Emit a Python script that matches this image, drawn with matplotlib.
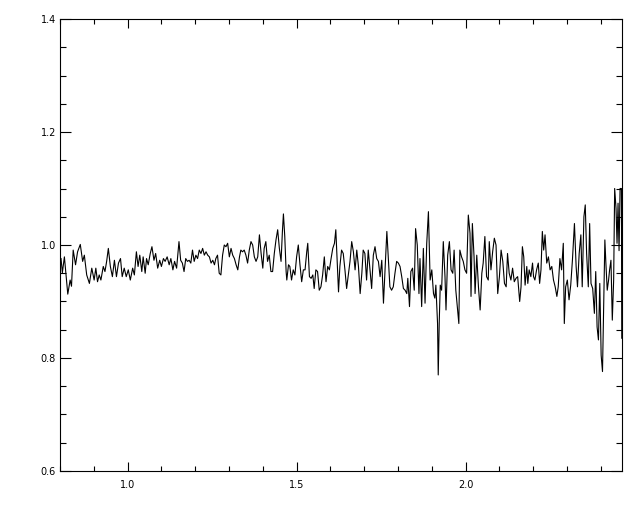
import numpy as np
import matplotlib
matplotlib.use("Agg")
import matplotlib.pyplot as plt
from matplotlib.ticker import MultipleLocator

# spectrum, in five stretches of wavelength
wave_a = [0.803, 0.807, 0.813, 0.823, 0.830, 0.834, 0.839, 0.846, 0.852, 0.860,
          0.867, 0.872, 0.879, 0.887, 0.894, 0.901, 0.906, 0.911, 0.916, 0.921,
          0.928, 0.933, 0.938, 0.943, 0.949, 0.955, 0.961, 0.967, 0.973, 0.979,
          0.984, 0.990, 0.996, 1.002, 1.008, 1.015, 1.020, 1.026, 1.031, 1.036,
          1.042, 1.046, 1.052, 1.056, 1.061, 1.067, 1.072, 1.078, 1.083, 1.089,
          1.095, 1.100, 1.106, 1.111, 1.117, 1.123, 1.128, 1.134, 1.139]
flux_a = [0.976, 0.951, 0.979, 0.913, 0.938, 0.927, 0.991, 0.965, 0.988, 1.001,
          0.971, 0.982, 0.947, 0.932, 0.959, 0.938, 0.959, 0.935, 0.947, 0.938,
          0.962, 0.953, 0.971, 0.994, 0.962, 0.944, 0.973, 0.944, 0.968, 0.976,
          0.944, 0.959, 0.944, 0.956, 0.938, 0.959, 0.947, 0.988, 0.962, 0.982,
          0.953, 0.979, 0.950, 0.976, 0.965, 0.985, 0.997, 0.973, 0.985, 0.959,
          0.973, 0.962, 0.976, 0.971, 0.979, 0.965, 0.976, 0.956, 0.971]

wave_b = [1.145, 1.152, 1.157, 1.162, 1.167, 1.172, 1.177, 1.182, 1.187, 1.192,
          1.197, 1.202, 1.207, 1.212, 1.217, 1.222, 1.227, 1.232, 1.237, 1.242,
          1.247, 1.252, 1.257, 1.261, 1.266, 1.271, 1.276, 1.281, 1.286, 1.291,
          1.296, 1.301, 1.306, 1.311, 1.316, 1.321, 1.326, 1.331, 1.335, 1.340,
          1.345, 1.350, 1.355, 1.360, 1.365, 1.370, 1.375, 1.380, 1.385, 1.390,
          1.395, 1.400, 1.404, 1.409, 1.414, 1.419, 1.424, 1.429, 1.434, 1.439,
          1.444, 1.449, 1.454, 1.458, 1.461, 1.465, 1.469, 1.471, 1.476]
flux_b = [0.959, 1.006, 0.973, 0.968, 0.953, 0.976, 0.971, 0.973, 0.968, 0.991,
          0.971, 0.982, 0.976, 0.991, 0.985, 0.994, 0.982, 0.988, 0.982, 0.979,
          0.968, 0.973, 0.965, 0.976, 0.982, 0.950, 0.947, 0.982, 1.000, 0.997,
          1.003, 0.979, 0.994, 0.982, 0.976, 0.965, 0.956, 0.979, 0.991, 0.988,
          0.991, 0.982, 0.968, 0.991, 1.006, 1.000, 0.979, 0.971, 0.979, 1.018,
          0.985, 0.959, 0.994, 1.006, 0.971, 0.982, 0.953, 0.953, 0.985, 1.009,
          1.027, 0.994, 0.971, 1.024, 1.055, 1.015, 0.953, 0.938, 0.965]

wave_c = [1.480, 1.485, 1.490, 1.495, 1.500, 1.505, 1.510, 1.515, 1.520, 1.525,
          1.530, 1.533, 1.538, 1.543, 1.548, 1.552, 1.557, 1.562, 1.567, 1.572,
          1.577, 1.582, 1.587, 1.592, 1.597, 1.602, 1.607, 1.612, 1.616, 1.621,
          1.624, 1.628, 1.633, 1.638, 1.643, 1.648, 1.653, 1.658, 1.663, 1.668,
          1.673, 1.678, 1.683, 1.688, 1.693, 1.697, 1.702, 1.707, 1.712, 1.717,
          1.722, 1.727, 1.732, 1.737, 1.742, 1.747, 1.752, 1.757, 1.762, 1.767,
          1.771, 1.776, 1.781, 1.786, 1.791, 1.796, 1.801, 1.806, 1.811, 1.816]
flux_c = [0.962, 0.938, 0.956, 0.947, 0.979, 1.000, 0.965, 0.935, 0.956, 0.956,
          0.988, 1.003, 0.944, 0.941, 0.947, 0.923, 0.956, 0.953, 0.920, 0.926,
          0.947, 0.979, 0.935, 0.962, 0.956, 0.976, 0.994, 1.003, 1.027, 0.956,
          0.917, 0.962, 0.991, 0.985, 0.956, 0.923, 0.947, 0.971, 1.006, 0.988,
          0.956, 0.991, 0.962, 0.914, 0.950, 0.991, 0.985, 0.938, 0.991, 0.956,
          0.923, 0.982, 0.997, 0.976, 0.971, 0.944, 0.973, 0.897, 0.962, 1.024,
          0.979, 0.926, 0.920, 0.926, 0.950, 0.971, 0.968, 0.962, 0.944, 0.923]

wave_d = [1.821, 1.826, 1.829, 1.834, 1.838, 1.843, 1.848, 1.852, 1.857, 1.862,
          1.865, 1.870, 1.875, 1.880, 1.885, 1.890, 1.895, 1.900, 1.905, 1.909,
          1.912, 1.917, 1.919, 1.922, 1.925, 1.929, 1.934, 1.939, 1.942, 1.947,
          1.952, 1.957, 1.962, 1.966, 1.971, 1.976, 1.980, 1.983, 1.988, 1.993,
          1.998, 2.003, 2.008, 2.013, 2.016, 2.020, 2.025, 2.028, 2.033, 2.038,
          2.043, 2.048, 2.052, 2.057, 2.062, 2.067, 2.070, 2.075, 2.080, 2.085,
          2.090, 2.095, 2.100, 2.105, 2.110, 2.115, 2.120, 2.124, 2.129, 2.134,
          2.139, 2.144, 2.149, 2.154]
flux_d = [0.920, 0.914, 0.941, 0.891, 0.953, 0.959, 0.920, 1.029, 1.000, 0.914,
          0.976, 0.891, 0.994, 0.897, 1.003, 1.059, 0.938, 0.956, 0.914, 0.906,
          0.929, 0.861, 0.770, 0.864, 0.929, 0.920, 1.006, 0.944, 0.885, 0.982,
          1.006, 0.956, 0.950, 0.991, 0.920, 0.888, 0.861, 0.991, 0.979, 0.971,
          0.956, 0.950, 1.053, 1.021, 0.909, 1.038, 0.979, 0.914, 0.982, 0.926,
          0.885, 0.950, 0.968, 1.015, 0.944, 0.938, 1.006, 0.956, 0.988, 1.012,
          1.000, 0.914, 0.944, 0.991, 0.971, 0.932, 0.926, 0.985, 0.950, 0.938,
          0.959, 0.935, 0.941, 0.944]

wave_e = [2.160, 2.164, 2.168, 2.172, 2.176, 2.181, 2.184, 2.188, 2.193, 2.198,
          2.201, 2.205, 2.210, 2.215, 2.219, 2.223, 2.227, 2.231, 2.235, 2.240,
          2.245, 2.250, 2.255, 2.260, 2.265, 2.270, 2.274, 2.279, 2.284, 2.289,
          2.292, 2.296, 2.301, 2.306, 2.311, 2.316, 2.322, 2.327, 2.331, 2.336,
          2.341, 2.345, 2.350, 2.354, 2.358, 2.363, 2.367, 2.371, 2.376, 2.381,
          2.385, 2.389, 2.393, 2.397, 2.401, 2.405, 2.408, 2.412, 2.415, 2.419,
          2.423, 2.426, 2.430, 2.434, 2.438, 2.441, 2.445, 2.448, 2.451, 2.454,
          2.457, 2.461, 2.462]
flux_e = [0.900, 0.926, 0.997, 0.979, 0.929, 0.962, 0.932, 0.956, 0.944, 0.968,
          0.944, 0.938, 0.956, 0.968, 0.932, 0.956, 1.024, 0.991, 1.018, 0.968,
          0.979, 0.956, 0.962, 0.938, 0.926, 0.909, 0.926, 0.976, 0.956, 1.003,
          0.861, 0.926, 0.938, 0.903, 0.929, 0.973, 1.038, 0.962, 0.926, 0.985,
          1.018, 0.926, 1.050, 1.071, 0.985, 0.926, 1.038, 0.932, 0.923, 0.879,
          0.953, 0.855, 0.832, 0.932, 0.805, 0.776, 0.873, 1.009, 0.968, 0.920,
          0.938, 0.956, 0.973, 0.867, 0.938, 1.100, 1.065, 1.003, 1.074, 0.990,
          1.100, 1.100, 0.835]

wave = np.concatenate([wave_a, wave_b, wave_c, wave_d, wave_e])
flux = np.concatenate([flux_a, flux_b, flux_c, flux_d, flux_e])

fig = plt.figure(figsize=(6.4, 5.12), dpi=100)
ax = fig.add_axes([60 / 640, 41 / 512, 562 / 640, 452 / 512])

ax.plot(wave, flux, color="black", lw=0.8)

ax.set_xlim(0.8, 2.4627)
ax.set_ylim(0.6, 1.4)
ax.xaxis.set_major_locator(MultipleLocator(0.5))
ax.xaxis.set_minor_locator(MultipleLocator(0.1))
ax.yaxis.set_major_locator(MultipleLocator(0.2))
ax.yaxis.set_minor_locator(MultipleLocator(0.05))

ax.tick_params(which="both", direction="in", top=True, right=True,
               width=0.8, labelsize=7)
ax.tick_params(axis="x", which="major", length=6.5, pad=6.5)
ax.tick_params(axis="x", which="minor", length=3.3)
ax.tick_params(axis="y", which="major", length=8, pad=3)
ax.tick_params(axis="y", which="minor", length=4)
for s in ax.spines.values():
    s.set_linewidth(0.8)

fig.savefig("out.png", dpi=100)
